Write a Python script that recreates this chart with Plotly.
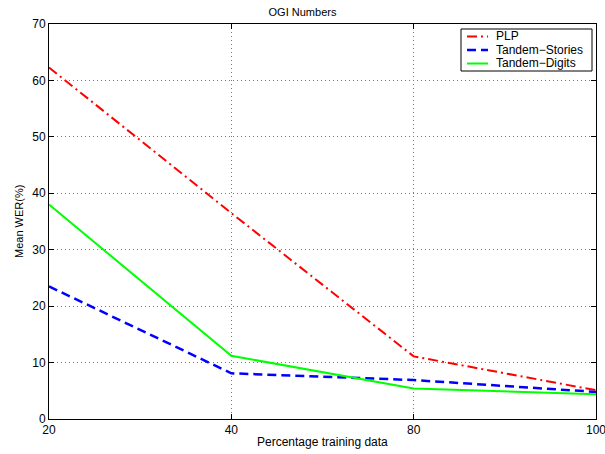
import plotly.graph_objects as go

x_labels = ["20", "40", "80", "100"]
plp = [62.3, 36.5, 11.1, 5.1]
tandem_stories = [23.5, 8.1, 6.9, 4.8]
tandem_digits = [38.0, 11.2, 5.4, 4.4]

series = [
    ("PLP", plp, "#ff0000", 2, "10px,4px,2px,4px"),
    ("Tandem\u2212Stories", tandem_stories, "#0000ff", 2.5, "9px,5px"),
    ("Tandem\u2212Digits", tandem_digits, "#00ff00", 2, "solid"),
]

W, H = 605, 454
L, R, T, B = 49, 9, 24, 35
pw, ph = W - L - R, H - T - B

fig = go.Figure()
for name, vals, color, width, dash in series:
    fig.add_trace(go.Scatter(x=x_labels, y=vals, mode="lines", name=name,
                             line=dict(color=color, width=width, dash=dash),
                             showlegend=False))

font = "Liberation Sans, Arial, Helvetica, sans-serif"


def px(xp):
    return (xp - L) / pw


def py(yp):
    return 1 - (yp - T) / ph


# legend drawn as box + sample lines + labels (paper coordinates)
shapes = [dict(type="rect", xref="paper", yref="paper",
               x0=px(461), x1=px(592), y0=py(71), y1=py(29),
               line=dict(color="black", width=1), fillcolor="white", layer="above")]
annotations = []
row_y = [36.5, 50, 63.5]
for (name, vals, color, width, dash), yy in zip(series, row_y):
    shapes.append(dict(type="line", xref="paper", yref="paper",
                       x0=px(467), x1=px(488), y0=py(yy), y1=py(yy),
                       line=dict(color=color, width=width, dash=dash), layer="above"))
    annotations.append(dict(xref="paper", yref="paper", x=px(495), y=py(yy),
                            text=name, showarrow=False, xanchor="left", yanchor="middle",
                            xshift=-1, font=dict(size=12, family=font, color="black")))

annotations.append(dict(xref="paper", yref="paper", x=0.5, y=py(442),
                        text="Percentage training data", showarrow=False,
                        xanchor="center", yanchor="middle",
                        font=dict(size=12, family=font, color="black")))
annotations.append(dict(xref="paper", yref="paper", x=px(19), y=py(222),
                        text="Mean WER(%)", showarrow=False, textangle=-90,
                        xanchor="center", yanchor="middle",
                        font=dict(size=11, family=font, color="black")))

fig.update_layout(
    width=W, height=H,
    margin=dict(l=L, r=R, t=T, b=B, autoexpand=False),
    paper_bgcolor="white", plot_bgcolor="white",
    font=dict(family=font, size=12, color="black"),
    title=dict(text="OGI Numbers", x=0.5, xanchor="center", y=1 - 12/H, yanchor="middle",
               font=dict(size=11, family=font)),
    showlegend=False,
    shapes=shapes,
    annotations=annotations,
)
grid = dict(showgrid=True, gridcolor="#777777", griddash="1px,3px", gridwidth=1)
fig.update_xaxes(type="category", range=[0, 3], showline=True, linecolor="black", linewidth=1,
                 mirror="ticks", ticks="inside", ticklen=5, tickcolor="black",
                 zeroline=False, automargin=False, tickfont=dict(size=12), **grid)
fig.update_yaxes(range=[0, 70], dtick=10, showline=True, linecolor="black", linewidth=1,
                 mirror="ticks", ticks="inside", ticklen=5, tickcolor="black",
                 zeroline=False, automargin=False, tickfont=dict(size=12), **grid)

fig.write_html("out.html", config={"displayModeBar": False},
               post_script="document.body.style.margin='0';document.body.style.overflow='hidden';")
